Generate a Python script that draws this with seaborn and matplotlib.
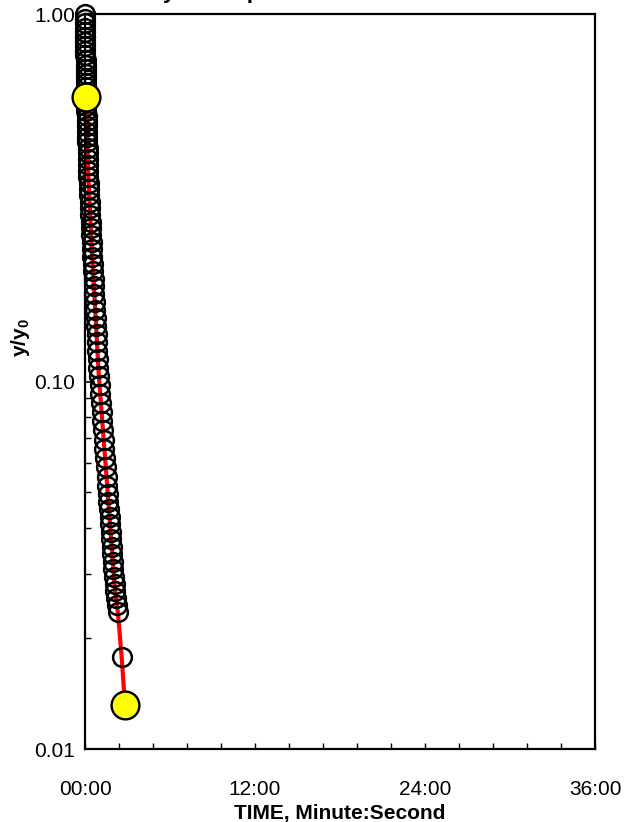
import matplotlib
matplotlib.use("Agg")
import matplotlib.pyplot as plt
import matplotlib.ticker as mticker
import numpy as np
import pandas as pd
import seaborn as sns

# ---------------- data ----------------
time_s = [0, 0.2, 0.5, 0.7, 0.9, 1.2, 1.4, 1.6, 1.9, 2.1, 2.3, 2.6, 2.8, 3.0, 3.3, 3.5, 3.7, 4.0, 4.2,
          4.8, 5.5, 6.1, 6.7, 7.3, 8.0, 8.7, 9.3, 10.0, 10.7, 11.4, 12.2, 12.9, 13.6, 14.4, 15.3,
          16.7, 18.1, 19.4, 20.8, 22.2, 23.6, 25.1, 26.5, 28.0, 29.5,
          31.1, 32.8, 34.5, 36.2, 37.9, 39.7, 41.5, 43.3, 45.1, 47.0, 48.9, 50.7, 52.7, 54.6, 56.6, 58.9,
          61.7, 64.5, 67.4, 70.3, 73.2, 76.2, 79.1, 82.1, 85.1, 88.1, 91.1, 94.1,
          96.5, 99.1, 101.3, 103.9, 106.1, 108.6, 110.8, 113.4, 115.6, 118.1, 120.4, 122.9, 125.1,
          128.0, 131.5, 135.0, 139.0,
          155.4, 169.4]
y_ratio = [1.000, 0.972, 0.944, 0.917, 0.891, 0.866, 0.841, 0.817, 0.794, 0.772, 0.750, 0.728, 0.708,
           0.688, 0.668, 0.649, 0.631, 0.613, 0.5945,
           0.5773, 0.5602, 0.5435, 0.5271, 0.5109, 0.4948, 0.4789, 0.4633, 0.4479, 0.4327, 0.4178,
           0.4031, 0.3887, 0.3746, 0.3608, 0.3473, 0.3340, 0.3211, 0.3085, 0.2962, 0.2842, 0.2725,
           0.2611, 0.2501, 0.2393, 0.2289,
           0.2188, 0.2091, 0.1996, 0.1904, 0.1816, 0.1730, 0.1648, 0.1568, 0.1491, 0.1418, 0.1347,
           0.1278, 0.1213, 0.1150, 0.1090, 0.1032,
           0.09765, 0.09235, 0.08729, 0.08250, 0.07793, 0.07361, 0.06949, 0.06560, 0.06188, 0.05838,
           0.05508, 0.05193,
           0.04942, 0.04700, 0.04498, 0.04279, 0.04095, 0.03895, 0.03728, 0.03545, 0.03393, 0.03227,
           0.03089, 0.02938, 0.02812, 0.02691, 0.02576, 0.02465, 0.02359,
           0.01779, 0.01317]
fit_start_index = 18          # first highlighted (yellow) point
x_tick_minutes = [0, 12, 24, 36]
y_tick_values = [0.01, 0.10, 1.00]
title_text = "Tracer Decay \u2013 Sample Run"
x_label = "TIME, Minute:Second"

# ---------------- styling ----------------
sns.set_theme(style="white")
plt.rcParams["font.family"] = ["Liberation Sans", "DejaVu Sans"]
plt.rcParams["mathtext.fontset"] = "custom"
plt.rcParams["mathtext.rm"] = "Liberation Sans"
plt.rcParams["mathtext.bf"] = "Liberation Sans:bold"
plt.rcParams["text.color"] = "black"
plt.rcParams["axes.labelcolor"] = "black"
plt.rcParams["xtick.color"] = "black"
plt.rcParams["ytick.color"] = "black"

df = pd.DataFrame({"minutes": np.array(time_s) / 60.0, "y": y_ratio})
fit = df.iloc[fit_start_index:]
ends = df.iloc[[fit_start_index, len(df) - 1]]

fig = plt.figure(figsize=(6.32, 8.22), dpi=100)
ax = fig.add_axes([85 / 632, 1 - 749 / 822, 510 / 632, 735 / 822])

sns.lineplot(data=fit, x="minutes", y="y", ax=ax, color="red", linewidth=3,
             estimator=None, sort=False, zorder=2)
sns.lineplot(data=df, x="minutes", y="y", ax=ax, linestyle="none", marker="o",
             markersize=13.5, markerfacecolor="none", markeredgecolor="black",
             markeredgewidth=1.8, estimator=None, sort=False, zorder=3, clip_on=False)
sns.lineplot(data=ends, x="minutes", y="y", ax=ax, linestyle="none", marker="o",
             markersize=20, markerfacecolor="#ffff00", markeredgecolor="black",
             markeredgewidth=1.7, estimator=None, sort=False, zorder=4, clip_on=False)

ax.set_yscale("log")
ax.set_ylim(0.01, 1.0)
ax.set_xlim(0, 36)
ax.set_xticks(x_tick_minutes)
ax.xaxis.set_minor_locator(mticker.MultipleLocator(2.4))
ax.xaxis.set_major_formatter(mticker.FuncFormatter(
    lambda v, p: f"{int(round(v)):02d}:{int(round((v - int(v)) * 60)):02d}"))
ax.set_yticks(y_tick_values)
ax.yaxis.set_major_formatter(mticker.FuncFormatter(lambda v, p: f"{v:.2f}"))
ax.yaxis.set_minor_locator(mticker.LogLocator(base=10, subs=np.arange(2, 10)))
ax.yaxis.set_minor_formatter(mticker.NullFormatter())

ax.tick_params(axis="both", which="both", direction="in", colors="black",
               bottom=True, left=True, top=False, right=False)
ax.tick_params(axis="y", which="major", length=7, width=1.2, pad=7, labelsize=15)
ax.tick_params(axis="y", which="minor", length=4, width=1.0)
ax.tick_params(axis="x", which="major", length=4, width=1.0, pad=22, labelsize=15)
ax.tick_params(axis="x", which="minor", length=4, width=1.0)

for s in ax.spines.values():
    s.set_visible(True)
    s.set_color("black")
    s.set_linewidth(1.6)

ax.set_xlabel(x_label, fontsize=15, fontweight="bold")
ax.xaxis.set_label_coords(0.5, -0.075)
ax.set_ylabel(r"$\mathbf{y/y_0}$", fontsize=15)
ax.yaxis.set_label_coords(-0.103, 0.56)
ax.grid(False)

fig.text(37 / 632, 1 + 1.5 / 822, title_text, ha="left", va="baseline",
         fontsize=16, fontweight="bold")

fig.savefig("out.png", dpi=100)
